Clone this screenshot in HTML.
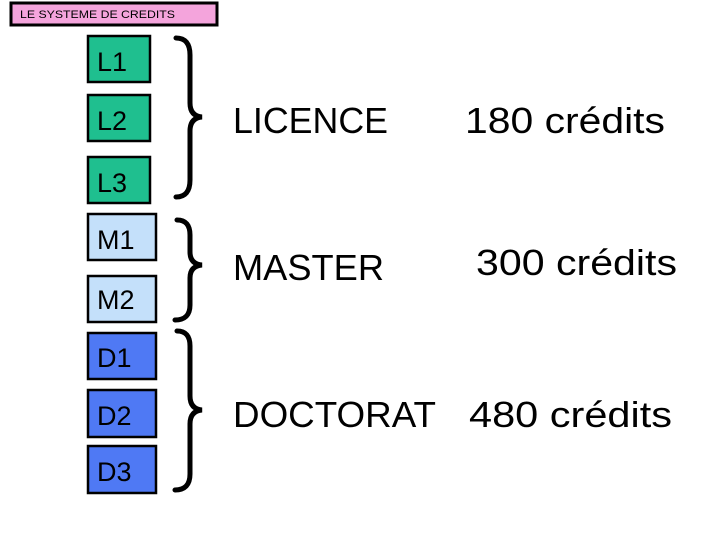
<!DOCTYPE html>
<html><head><meta charset="utf-8"><style>
html,body{margin:0;padding:0;background:#fff;}
svg{display:block;}
text{font-family:"Liberation Sans",sans-serif;fill:#000;}
</style></head><body>
<svg width="720" height="540" viewBox="0 0 720 540" xmlns="http://www.w3.org/2000/svg">
<rect x="11" y="3" width="206" height="22" fill="#f4a4dc" stroke="#000" stroke-width="3"/>
<text x="20" y="18" font-size="11" textLength="155" lengthAdjust="spacingAndGlyphs">LE SYSTEME DE CREDITS</text>

<g stroke="#000" stroke-width="2.5">
<rect x="88" y="36" width="62" height="46" fill="#1fbf8f"/>
<rect x="88" y="95" width="62" height="46" fill="#1fbf8f"/>
<rect x="88" y="157" width="62" height="46" fill="#1fbf8f"/>
<rect x="88" y="214" width="68" height="46" fill="#c4e0fa"/>
<rect x="88" y="276" width="68" height="46" fill="#c4e0fa"/>
<rect x="88" y="333" width="68" height="46" fill="#4f79f4"/>
<rect x="88" y="390" width="68" height="47" fill="#4f79f4"/>
<rect x="88" y="446" width="68" height="47" fill="#4f79f4"/>
</g>
<g font-size="27">
<text x="97" y="71">L1</text>
<text x="97" y="130">L2</text>
<text x="97" y="192">L3</text>
<text x="97" y="249">M1</text>
<text x="97" y="309">M2</text>
<text x="97" y="367">D1</text>
<text x="97" y="425">D2</text>
<text x="97" y="481">D3</text>
</g>

<g fill="none" stroke="#000" stroke-width="5" stroke-linecap="round">
<path d="M176 38 Q190 38 190 55 L190 103 Q190 116 202 117 Q190 118 190 131 L190 180 Q190 197 176 197"/>
<path d="M177 220 Q190 220 190 235 L190 252 Q190 264 202 265 Q190 266 190 278 L190 305 Q190 320 175 320"/>
<path d="M177 331 Q190 331 190 346 L190 396 Q190 409 202 410 Q190 411 190 424 L190 474 Q190 490 175 490"/>
</g>

<g font-size="36">
<text x="233" y="133" textLength="155" lengthAdjust="spacingAndGlyphs">LICENCE</text>
<text x="465" y="133" textLength="200" lengthAdjust="spacingAndGlyphs">180 crédits</text>
<text x="233" y="280" textLength="151" lengthAdjust="spacingAndGlyphs">MASTER</text>
<text x="476" y="275" textLength="201" lengthAdjust="spacingAndGlyphs">300 crédits</text>
<text x="233" y="427" textLength="203" lengthAdjust="spacingAndGlyphs">DOCTORAT</text>
<text x="469" y="427" textLength="203" lengthAdjust="spacingAndGlyphs">480 crédits</text>
</g>
</svg>
</body></html>
